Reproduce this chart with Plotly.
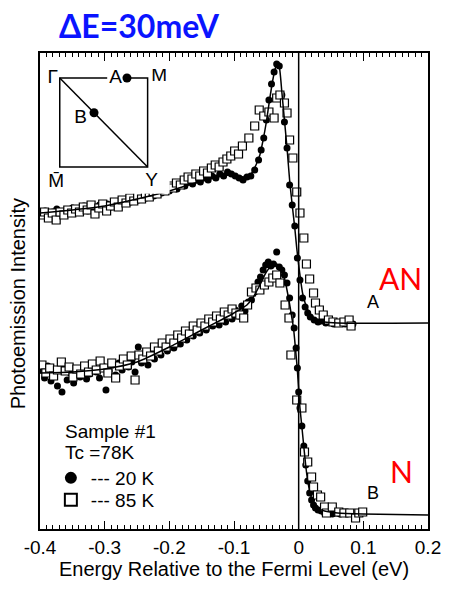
import plotly.graph_objects as go

# ---------------- data (energy in eV, intensity in arbitrary units) ----------------
energy_A_20K = [-0.398, -0.392, -0.386, -0.380, -0.374, -0.368, -0.362, -0.356, -0.350, -0.344,
                -0.338, -0.332, -0.326, -0.320, -0.314, -0.308, -0.302, -0.296, -0.290, -0.284,
                -0.278, -0.272, -0.266, -0.260, -0.254, -0.248, -0.242, -0.236, -0.230, -0.224,
                -0.218, -0.212, -0.206, -0.200, -0.194, -0.188, -0.182, -0.176, -0.170, -0.164,
                -0.158, -0.152, -0.146, -0.140, -0.134, -0.128, -0.122, -0.116, -0.110, -0.104,
                -0.098, -0.092, -0.086, -0.080, -0.074, -0.068, -0.062, -0.058, -0.054, -0.050,
                -0.046, -0.042, -0.038, -0.034, -0.030, -0.026, -0.022, -0.018, -0.014, -0.010,
                -0.006, -0.002, 0.002, 0.006, 0.010, 0.014, 0.018, 0.024, 0.030, 0.036,
                0.042, 0.048, 0.054, 0.060, 0.066, 0.072, 0.078, 0.084]
intensity_A_20K = [315, 318, 313, 317, 320, 315, 318, 316, 321, 317,
                   319, 323, 318, 322, 320, 324, 321, 325, 322, 327,
                   324, 326, 330, 327, 331, 329, 333, 331, 336, 333,
                   338, 336, 340, 338, 342, 340, 345, 343, 347, 345,
                   349, 347, 351, 349, 353, 351, 355, 353, 357, 355,
                   353, 351, 349, 352, 353, 359, 369, 379, 391, 409,
                   429, 445, 457, 465, 463, 434, 407, 381, 344, 324,
                   303, 271, 249, 231, 222, 216, 212, 209, 207, 208,
                   206, 207, 205, 206, 206, 205, 206, 205]

energy_A_85K = [-0.399, -0.393, -0.387, -0.381, -0.375, -0.369, -0.363, -0.357, -0.351, -0.345,
                -0.339, -0.333, -0.327, -0.321, -0.315, -0.309, -0.303, -0.297, -0.291, -0.285,
                -0.279, -0.273, -0.267, -0.261, -0.255, -0.249, -0.243, -0.237, -0.231, -0.225,
                -0.219, -0.213, -0.207, -0.201, -0.195, -0.189, -0.183, -0.177, -0.171, -0.165,
                -0.159, -0.153, -0.147, -0.141, -0.135, -0.129, -0.123, -0.117, -0.111, -0.105,
                -0.099, -0.093, -0.087, -0.077, -0.068, -0.061, -0.054, -0.046, -0.038, -0.034,
                -0.029, -0.022, -0.018, -0.014, -0.009, -0.003, 0.002, 0.008, 0.012, 0.017,
                0.023, 0.026, 0.032, 0.038, 0.046, 0.053, 0.062, 0.070, 0.078, 0.081]
intensity_A_85K = [314, 317, 311, 316, 309, 317, 314, 319, 316, 320,
                   317, 322, 319, 324, 315, 321, 325, 318, 323, 327,
                   322, 329, 326, 331, 328, 333, 330, 335, 332, 337,
                   335, 340, 338, 343, 341, 346, 344, 349, 352, 350,
                   355, 353, 358, 356, 361, 364, 362, 367, 370, 373,
                   378, 375, 383, 391, 403, 419, 413, 417, 411, 431,
                   434, 426, 416, 389, 371, 337, 316, 291, 265, 250,
                   236, 226, 219, 214, 209, 207, 206, 207, 209, 203]

energy_A_fit = [-0.400, -0.350, -0.300, -0.250, -0.200, -0.150, -0.120, -0.100, -0.085, -0.075,
                -0.066, -0.060, -0.055, -0.050, -0.045, -0.040, -0.036, -0.033, -0.030, -0.026,
                -0.022, -0.018, -0.014, -0.010, -0.006, -0.003, 0.000, 0.003, 0.006, 0.010,
                0.015, 0.020, 0.030, 0.040, 0.060, 0.200]
intensity_A_fit = [316, 319, 323, 330, 338, 348, 353, 354, 352, 354,
                   364, 374, 389, 407, 429, 449, 461, 465, 462, 437,
                   409, 381, 349, 324, 301, 281, 264, 249, 236, 226,
                   218, 213, 209, 207, 206, 206]

energy_B_20K = [-0.398, -0.393, -0.388, -0.383, -0.378, -0.373, -0.366, -0.363, -0.358, -0.353,
                -0.348, -0.343, -0.338, -0.333, -0.328, -0.323, -0.318, -0.313, -0.308, -0.303,
                -0.298, -0.293, -0.288, -0.283, -0.278, -0.273, -0.268, -0.263, -0.258, -0.253,
                -0.248, -0.243, -0.238, -0.233, -0.228, -0.223, -0.218, -0.213, -0.208, -0.203,
                -0.198, -0.193, -0.188, -0.183, -0.178, -0.173, -0.168, -0.163, -0.158, -0.153,
                -0.148, -0.143, -0.138, -0.133, -0.128, -0.123, -0.118, -0.113, -0.108, -0.103,
                -0.098, -0.093, -0.088, -0.083, -0.078, -0.073, -0.068, -0.063, -0.059, -0.055,
                -0.051, -0.047, -0.043, -0.039, -0.034, -0.030, -0.026, -0.022, -0.018, -0.014,
                -0.010, -0.007, -0.004, -0.002, 0.000, 0.002, 0.005, 0.008, 0.011, 0.014,
                0.017, 0.020, 0.023, 0.026, 0.030, 0.035, 0.040, 0.046, 0.052, 0.058,
                0.064, 0.070]
intensity_B_20K = [159, 151, 163, 148, 157, 143, 137, 160, 149, 156,
                   146, 158, 152, 161, 150, 155, 162, 157, 151, 163,
                   139, 158, 164, 154, 166, 159, 169, 162, 167, 157,
                   182, 166, 172, 164, 176, 170, 180, 174, 184, 178,
                   187, 181, 190, 185, 195, 189, 198, 193, 202, 196,
                   205, 199, 208, 203, 211, 204, 214, 207, 216, 210,
                   219, 213, 223, 218, 227, 229, 237, 247, 252, 259,
                   264, 267, 263, 265, 277, 262, 259, 254, 246, 231,
                   214, 201, 181, 161, 137, 121, 103, 83, 64, 48,
                   36, 29, 24, 21, 19, 18, 16, 17, 15, 16,
                   15, 17]

energy_B_85K = [-0.397, -0.391, -0.385, -0.379, -0.373, -0.367, -0.361, -0.355, -0.349, -0.343,
                -0.337, -0.331, -0.325, -0.319, -0.313, -0.307, -0.301, -0.295, -0.289, -0.283,
                -0.277, -0.271, -0.265, -0.259, -0.253, -0.247, -0.241, -0.235, -0.229, -0.223,
                -0.217, -0.211, -0.205, -0.199, -0.193, -0.187, -0.181, -0.175, -0.169, -0.163,
                -0.157, -0.151, -0.145, -0.139, -0.133, -0.127, -0.121, -0.115, -0.109, -0.103,
                -0.097, -0.091, -0.085, -0.079, -0.073, -0.066, -0.060, -0.053, -0.046, -0.040,
                -0.034, -0.029, -0.021, -0.015, -0.012, -0.003, 0.005, 0.009, 0.014, 0.020,
                0.023, 0.029, 0.034, 0.040, 0.043, 0.052, 0.062, 0.070, 0.079, 0.088,
                0.093, 0.099]
intensity_B_85K = [164, 156, 161, 153, 159, 167, 158, 162, 152, 160,
                   155, 163, 157, 165, 159, 168, 161, 156, 166, 151,
                   163, 170, 164, 173, 149, 174, 170, 177, 173, 182,
                   178, 186, 182, 190, 186, 194, 191, 198, 195, 203,
                   199, 206, 203, 210, 207, 213, 210, 217, 214, 220,
                   216, 214, 211, 224, 237, 241, 239, 244, 247, 251,
                   254, 246, 224, 211, 174, 129, 121, 77, 67, 52,
                   42, 34, 32, 22, 16, 22, 17, 16, 16, 11,
                   16, 17]

energy_B_fit = [-0.400, -0.350, -0.300, -0.250, -0.200, -0.150, -0.120, -0.100, -0.080, -0.070,
                -0.060, -0.050, -0.042, -0.034, -0.028, -0.022, -0.016, -0.012, -0.008, -0.005,
                -0.002, 0.000, 0.002, 0.005, 0.008, 0.011, 0.014, 0.018, 0.022, 0.028,
                0.040, 0.060, 0.100, 0.200]
intensity_B_fit = [156, 157, 160, 167, 182, 199, 209, 216, 224, 232,
                   244, 257, 263, 265, 262, 251, 232, 217, 201, 181,
                   159, 139, 121, 102, 82, 63, 48, 35, 27, 21,
                   18, 16, 15, 14]

x_tick_values = [-0.4, -0.3, -0.2, -0.1, 0.0, 0.1, 0.2]
x_tick_labels = ["-0.4", "-0.3", "-0.2", "-0.1", "0", "0.1", "0.2"]

# Brillouin-zone inset (fractional k coordinates)
zone_edges_kx = [0.54, 0.0, 0.0, 1.0, 1.0, 0.765, None, 0.0, 1.0]
zone_edges_ky = [1.0, 1.0, 0.0, 0.0, 1.0, 1.0, None, 1.0, 0.0]
cut_points_kx = [0.765, 0.39]
cut_points_ky = [1.0, 0.61]
zone_labels = ["Γ", "A", "M\u0304", "B", "M\u0304", "Y"]
zone_label_kx = [-0.08, 0.635, 1.13, 0.236, -0.04, 1.045]
zone_label_ky = [1.0, 1.0, 1.02, 0.545, -0.17, -0.16]

# ---------------- figure ----------------
fig = go.Figure()

dot = dict(symbol="circle", size=7, color="black")
sq = dict(symbol="square", size=8, color="white", line=dict(color="black", width=1.2))

fig.add_trace(go.Scatter(x=energy_B_20K, y=intensity_B_20K, mode="markers", marker=dot,
                         showlegend=False, name="--- 20 K"))
fig.add_trace(go.Scatter(x=energy_B_85K, y=intensity_B_85K, mode="markers", marker=sq,
                         showlegend=False, name="--- 85 K"))
fig.add_trace(go.Scatter(x=energy_A_20K, y=intensity_A_20K, mode="markers", marker=dot,
                         legend="legend", showlegend=True, name="--- 20 K"))
fig.add_trace(go.Scatter(x=energy_A_85K, y=intensity_A_85K, mode="markers", marker=sq,
                         legend="legend2", showlegend=True, name="--- 85 K"))
fig.add_trace(go.Scatter(x=energy_A_fit, y=intensity_A_fit, mode="lines",
                         line=dict(color="black", width=1.5, shape="spline", smoothing=0.6),
                         showlegend=False, hoverinfo="skip"))
fig.add_trace(go.Scatter(x=energy_B_fit, y=intensity_B_fit, mode="lines",
                         line=dict(color="black", width=1.5, shape="spline", smoothing=0.6),
                         showlegend=False, hoverinfo="skip"))

helv = "Liberation Sans, Arial, sans-serif"

# inset
fig.add_trace(go.Scatter(x=zone_edges_kx, y=zone_edges_ky, mode="lines", xaxis="x2", yaxis="y2",
                         line=dict(color="black", width=1.5), showlegend=False, hoverinfo="skip"))
fig.add_trace(go.Scatter(x=cut_points_kx, y=cut_points_ky, mode="markers", xaxis="x2", yaxis="y2",
                         marker=dict(symbol="circle", size=9, color="black"),
                         showlegend=False, hoverinfo="skip"))
fig.add_trace(go.Scatter(x=zone_label_kx, y=zone_label_ky, mode="text", text=zone_labels,
                         xaxis="x2", yaxis="y2", textposition="middle center",
                         textfont=dict(family=helv, size=19, color="black"),
                         showlegend=False, hoverinfo="skip"))

fig.add_shape(type="line", xref="x", yref="paper", x0=0, x1=0, y0=0, y1=1,
              line=dict(color="black", width=1.5))

leg_common = dict(xanchor="left", yanchor="middle", bgcolor="rgba(0,0,0,0)",
                  font=dict(size=19, family=helv), itemwidth=30, itemsizing="constant")

fig.update_layout(
    width=453, height=590,
    margin=dict(l=40, r=20, t=53, b=61),
    paper_bgcolor="white", plot_bgcolor="white",
    font=dict(family=helv, color="black", size=18),
    xaxis=dict(range=[-0.4, 0.2], tickmode="array", tickvals=x_tick_values, ticktext=x_tick_labels,
               ticks="inside", ticklen=8, tickwidth=1.2, tickcolor="black",
               minor=dict(dtick=0.01, ticks="inside", ticklen=4, tickwidth=1, tickcolor="black"),
               showline=True, linecolor="black", linewidth=1.5, mirror="ticks",
               showgrid=False, zeroline=False,
               tickfont=dict(size=19, family=helv),
               title=dict(text="Energy Relative to the Fermi Level (eV)", font=dict(size=20, family=helv),
                          standoff=4)),
    yaxis=dict(range=[0, 476], showticklabels=False, ticks="", showline=True, linecolor="black",
               linewidth=1.5, mirror=True, showgrid=False, zeroline=False),
    xaxis2=dict(domain=[0.0056, 0.334], range=[-0.2, 1.25], anchor="y2", visible=False),
    yaxis2=dict(domain=[0.7044, 0.9662], range=[-0.3, 1.1], anchor="x2", visible=False),
    legend=dict(x=0.028, y=0.1071, **leg_common),
    legend2=dict(x=0.028, y=0.0609, **leg_common),
    showlegend=True,
)

ann = []
ann.append(dict(text="<b>ΔE=30meV</b>", xref="paper", yref="paper", x=0.257, y=1.0588,
                xanchor="center", yanchor="middle", showarrow=False,
                font=dict(family="Lato, Open Sans, sans-serif", size=32, color="#0a14ff")))
ann.append(dict(text="Photoemission Intensity", xref="paper", yref="paper", x=-0.056, y=0.4727,
                textangle=-90, xanchor="center", yanchor="middle", showarrow=False,
                font=dict(family=helv, size=20)))
ann.append(dict(text="AN", xref="paper", yref="paper", x=0.9288, y=0.527, xanchor="center",
                yanchor="middle", showarrow=False,
                font=dict(family="Lato, Open Sans, sans-serif", size=30, color="#ff0000")))
ann.append(dict(text="N", xref="paper", yref="paper", x=0.931, y=0.1218, xanchor="center",
                yanchor="middle", showarrow=False,
                font=dict(family="Lato, Open Sans, sans-serif", size=30, color="#ff0000")))
ann.append(dict(text="A", xref="x", yref="y", x=0.1145, y=227, showarrow=False,
                xanchor="center", yanchor="middle", font=dict(family=helv, size=18)))
ann.append(dict(text="B", xref="x", yref="y", x=0.1145, y=36, showarrow=False,
                xanchor="center", yanchor="middle", font=dict(family=helv, size=18)))
ann.append(dict(text="Sample #1", xref="paper", yref="paper", x=0.0585, y=0.2038,
                xanchor="left", yanchor="middle", showarrow=False, font=dict(family=helv, size=19)))
ann.append(dict(text="Tc =78K", xref="paper", yref="paper", x=0.0585, y=0.1597,
                xanchor="left", yanchor="middle", showarrow=False, font=dict(family=helv, size=19)))
fig.update_layout(annotations=ann)

fig.write_html("out.html")
